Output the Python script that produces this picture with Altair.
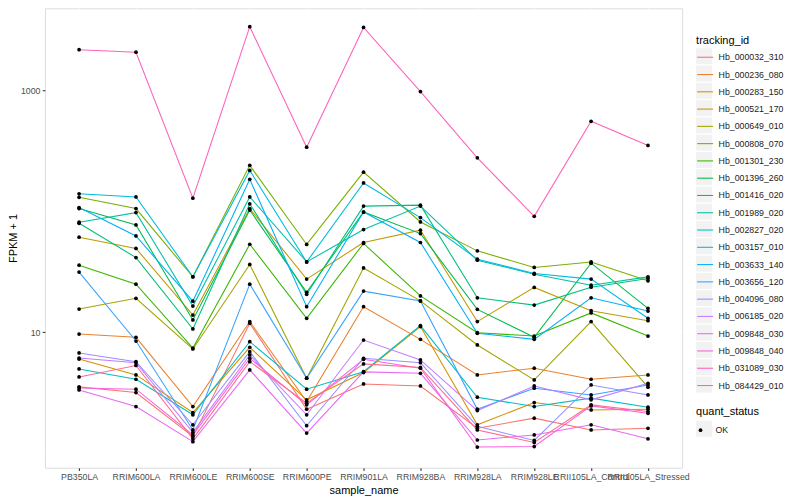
import altair as alt
import pandas as pd

samples = ["PB350LA", "RRIM600LA", "RRIM600LE", "RRIM600SE", "RRIM600PE", "RRIM901LA",
           "RRIM928BA", "RRIM928LA", "RRIM928LE", "RRII105LA_Control", "RRII105LA_Stressed"]

tracking_ids = ["Hb_000032_310", "Hb_000236_080", "Hb_000283_150", "Hb_000521_170",
                "Hb_000649_010", "Hb_000808_070", "Hb_001301_230", "Hb_001396_260",
                "Hb_001416_020", "Hb_001989_020", "Hb_002827_020", "Hb_003157_010",
                "Hb_003633_140", "Hb_003656_120", "Hb_004096_080", "Hb_006185_020",
                "Hb_009848_030", "Hb_009848_040", "Hb_031089_030", "Hb_084429_010"]

# FPKM + 1 per sample, in the order of `samples`
hb_000032_310 = [3.52, 3.16, 1.37, 11.8, 2.30, 3.72, 3.58, 1.60, 1.94, 1.55, 1.60]
hb_000236_080 = [9.63, 9.04, 2.42, 12.2, 2.66, 16.2, 8.70, 4.42, 5.02, 4.07, 4.42]
hb_000283_150 = [5.98, 4.42, 2.16, 7.48, 2.75, 4.62, 11.1, 1.71, 2.61, 2.27, 2.30]
hb_000521_170 = [60.8, 49.1, 13.8, 105, 27.4, 55.0, 69.5, 12.2, 23.4, 15.0, 12.4]
hb_000649_010 = [15.5, 19.0, 7.24, 36.2, 4.15, 33.9, 18.1, 7.82, 4.02, 12.2, 3.50]
hb_000808_070 = [130, 105, 28.6, 239, 53.0, 210, 81.3, 46.9, 34.2, 38.0, 26.5]
hb_001301_230 = [35.7, 24.9, 7.38, 53.2, 13.0, 54.0, 19.9, 9.87, 9.27, 14.4, 9.27]
hb_001396_260 = [105, 76.8, 12.6, 102, 21.3, 98.3, 65.2, 15.4, 9.04, 37.1, 15.7]
hb_001416_020 = [79.3, 41.3, 10.6, 115, 20.5, 110, 112, 19.2, 16.7, 23.5, 27.7]
hb_001989_020 = [80.9, 97.2, 16.4, 131, 38.0, 70.4, 110, 39.3, 30.1, 24.4, 28.6]
hb_002827_020 = [4.95, 4.07, 2.07, 8.32, 3.37, 4.70, 11.3, 2.89, 2.42, 2.84, 2.39]
hb_003157_010 = [139, 131, 28.6, 217, 38.0, 171, 88.4, 40.0, 30.5, 27.4, 13.0]
hb_003633_140 = [107, 62.3, 18.0, 183, 16.2, 98.3, 55.0, 9.76, 8.70, 19.2, 14.9]
hb_003656_120 = [31.3, 8.43, 1.55, 24.9, 4.15, 21.8, 18.1, 2.30, 3.43, 3.02, 3.65]
hb_004096_080 = [6.71, 5.69, 1.71, 6.88, 1.68, 6.07, 5.58, 1.66, 1.27, 3.65, 3.02]
hb_006185_020 = [6.10, 5.58, 1.48, 6.46, 2.07, 8.59, 5.88, 2.24, 3.58, 2.75, 3.77]
hb_009848_030 = [3.32, 2.42, 1.24, 4.86, 1.46, 4.68, 4.56, 1.28, 1.41, 1.71, 1.31]
hb_009848_040 = [3.45, 3.37, 1.41, 6.07, 2.50, 5.95, 5.02, 1.12, 1.13, 2.45, 2.13]
hb_031089_030 = [2163, 2061, 128, 3350, 338, 3304, 973, 276, 90.6, 553, 349]
hb_084429_010 = [4.25, 5.29, 1.31, 5.69, 2.58, 5.45, 5.10, 1.55, 1.22, 2.50, 2.20]

series = [hb_000032_310, hb_000236_080, hb_000283_150, hb_000521_170, hb_000649_010,
          hb_000808_070, hb_001301_230, hb_001396_260, hb_001416_020, hb_001989_020,
          hb_002827_020, hb_003157_010, hb_003633_140, hb_003656_120, hb_004096_080,
          hb_006185_020, hb_009848_030, hb_009848_040, hb_031089_030, hb_084429_010]

palette = ["#F8766D", "#EA8331", "#D89000", "#C09B00", "#A3A500", "#7CAE00", "#39B600",
           "#00BB4E", "#00BF7D", "#00C1A3", "#00BFC4", "#00BAE0", "#00B0F6", "#35A2FF",
           "#9590FF", "#C77CFF", "#E76BF3", "#FA62DB", "#FF62BC", "#FF6C90"]

statuses = ["OK"]
y_ticks = [10, 1000]
y_minor = [1, 100]

rows = []
for tid, vals in zip(tracking_ids, series):
    for i, (s, v) in enumerate(zip(samples, vals)):
        rows.append(dict(sample_name=s, idx=i, tracking_id=tid, key=tid, fpkm=v,
                         quant_status=statuses[0], status_key=statuses[0]))
df = pd.DataFrame(rows)
minor_df = pd.DataFrame({"fpkm": y_minor})

FONT = "Liberation Sans"
KEY_BG = "#F2F2F2"

x_axis = alt.Axis(title="sample_name", labelAngle=0, grid=True, gridColor="white", gridWidth=1.07,
                  domain=False, tickColor="#333333", tickSize=2.75, tickWidth=1.07,
                  labelColor="#4D4D4D", labelFontSize=8.8, labelPadding=2.2, labelFont=FONT,
                  titleFontSize=11, titleFontWeight="normal", titleColor="black", titleFont=FONT,
                  titlePadding=3)
y_axis = alt.Axis(title="FPKM + 1", values=y_ticks, format="d", grid=True, gridColor="white",
                  gridWidth=1.07, domain=False, tickColor="#333333", tickSize=2.75, tickWidth=1.07,
                  labelColor="#4D4D4D", labelFontSize=8.8, labelPadding=2.2, labelFont=FONT,
                  titleFontSize=11, titleFontWeight="normal", titleColor="black", titleFont=FONT,
                  titlePadding=1.5)

x = alt.X("sample_name:N", sort=samples, scale=alt.Scale(type="point", padding=0.6), axis=x_axis)
y = alt.Y("fpkm:Q", scale=alt.Scale(type="log", domain=[0.755, 4753], nice=False), axis=y_axis)

minor_rules = alt.Chart(minor_df).mark_rule(color="white", strokeWidth=0.53).encode(y=y)

legend_common = dict(orient="none", legendX=652, labelFontSize=8.8, labelFont=FONT,
                     labelColor="#1A1A1A", titleFontSize=11, titleFont=FONT,
                     titleFontWeight="normal", titleColor="black", padding=0)

# grey key backgrounds of the tracking_id legend (no marks drawn, legend only)
key_boxes = alt.Chart(df).transform_filter("datum.fpkm < 0").mark_square(
    color=KEY_BG, filled=True, opacity=1).encode(
    x=x, y=y,
    size=alt.Size("key:N", scale=alt.Scale(domain=tracking_ids, range=[256, 256]),
                  legend=alt.Legend(title="tracking_id", legendY=27, symbolType="square",
                                    symbolFillColor=KEY_BG, symbolStrokeWidth=0,
                                    rowPadding=1.3, labelOffset=4.5, labelOpacity=0,
                                    titleOpacity=0, titlePadding=2, zindex=0, **legend_common)))

# grey key background of the quant_status legend
status_box = alt.Chart(df).transform_filter("datum.fpkm < 0").mark_square(
    color=KEY_BG, filled=True, size=256).encode(
    x=x, y=y,
    opacity=alt.Opacity("status_key:O", scale=alt.Scale(domain=statuses, range=[1, 1]),
                        legend=alt.Legend(title="quant_status", legendY=398, symbolType="square",
                                          symbolFillColor=KEY_BG, symbolStrokeWidth=0,
                                          symbolSize=256, labelOffset=4.5, labelOpacity=0,
                                          titleOpacity=0, titlePadding=4, zindex=0,
                                          **legend_common)))

lines = alt.Chart(df).mark_line(strokeWidth=1.07).encode(
    x=x, y=y,
    color=alt.Color("tracking_id:N", scale=alt.Scale(range=palette),
                    legend=alt.Legend(title="tracking_id", legendY=27, symbolType="stroke",
                                      symbolSize=256, symbolStrokeWidth=1.07, rowPadding=3.3,
                                      labelOffset=4.5, titlePadding=2, zindex=1, **legend_common)),
    order="idx:Q")

points = alt.Chart(df).mark_point(filled=True, size=14, color="black", opacity=1).encode(
    x=x, y=y,
    shape=alt.Shape("quant_status:N", scale=alt.Scale(range=["circle"]),
                    legend=alt.Legend(title="quant_status", legendY=398, symbolSize=14,
                                      symbolFillColor="black", symbolType="square",
                                      labelOffset=10.5, titlePadding=9, zindex=1,
                                      **legend_common)))

chart = alt.layer(minor_rules, key_boxes, status_box, lines, points).properties(
    width=638, height=460,
    autosize=alt.AutoSizeParams(type="none"),
    padding={"left": 37, "top": 0, "right": 110, "bottom": 32},
).configure_view(fill="#EBEBEB", strokeWidth=0).configure(font=FONT)

chart.save("out.html", embed_options={"renderer": "svg", "actions": False})
